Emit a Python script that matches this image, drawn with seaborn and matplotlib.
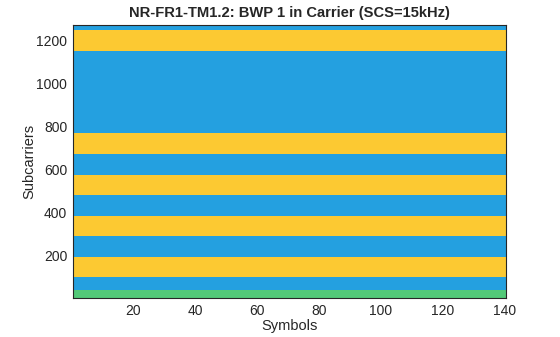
import numpy as np
import pandas as pd
import matplotlib
matplotlib.use("Agg")
import matplotlib.pyplot as plt
from matplotlib.colors import ListedColormap
import seaborn as sns

# Band edges in subcarriers (bottom -> top) and the class of each band
band_edges = [0, 36, 96, 192, 288, 384, 480, 576, 672, 768, 1152, 1248, 1272]
band_class = [0, 1, 2, 1, 2, 1, 2, 1, 2, 1, 2, 1]   # 0=green, 1=blue, 2=yellow
n_symbols = 140
class_colors = ["#52C978", "#24A0E0", "#FCC932"]
x_ticks = [20, 40, 60, 80, 100, 120, 140]
y_ticks = [200, 400, 600, 800, 1000, 1200]
title = "NR-FR1-TM1.2: BWP 1 in Carrier (SCS=15kHz)"

sns.set_style("ticks")
plt.rcParams["font.family"] = ["Liberation Sans", "DejaVu Sans"]

col = np.concatenate([np.full(band_edges[i + 1] - band_edges[i], c)
                      for i, c in enumerate(band_class)])
grid = pd.DataFrame(np.repeat(col[:, None], n_symbols, axis=1))

fig = plt.figure(figsize=(5.6, 3.37), dpi=100)
ax = fig.add_axes([0.130, 0.1157, 0.774, 0.8093])
sns.heatmap(grid, ax=ax, cmap=ListedColormap(class_colors), vmin=-0.5, vmax=2.5,
            cbar=False, rasterized=True, xticklabels=False, yticklabels=False)
ax.invert_yaxis()
ax.set_xticks([v - 0.5 for v in x_ticks])
ax.set_xticklabels([str(v) for v in x_ticks])
ax.set_yticks([v - 0.5 for v in y_ticks])
ax.set_yticklabels([str(v) for v in y_ticks], rotation=0)
for s in ax.spines.values():
    s.set_visible(True)
    s.set_color("#262626")
    s.set_linewidth(0.8)
ax.tick_params(direction="in", top=True, right=True, length=3.5, width=0.6,
               labelsize=10, colors="#262626", labelcolor="#262626", pad=4)
ax.set_xlabel("Symbols", fontsize=10.5, color="#262626", labelpad=1)
ax.set_ylabel("Subcarriers", fontsize=10.5, color="#262626", labelpad=0)
ax.set_title(title, fontsize=10.6, fontweight="bold", color="#262626", pad=6)
fig.savefig("out.png", dpi=100)
